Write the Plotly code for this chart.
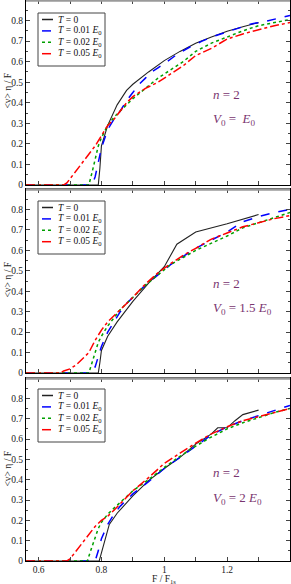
import plotly.graph_objects as go
from plotly.subplots import make_subplots

# ---------------- data ----------------
# Panel 1: V0 = E0
p1_x_T0 = [0.56, 0.79, 0.795, 0.80, 0.82, 0.85, 0.88, 0.90, 0.95, 1.00, 1.05, 1.10, 1.15, 1.20, 1.25, 1.30]
p1_y_T0 = [0, 0, 0.08, 0.19, 0.29, 0.39, 0.46, 0.49, 0.55, 0.605, 0.65, 0.69, 0.72, 0.748, 0.77, 0.79]
p1_x_T1 = [0.56, 0.77, 0.78, 0.79, 0.80, 0.82, 0.84, 0.86, 0.88, 0.90, 0.92, 0.94, 0.96, 0.98, 1.00, 1.04, 1.08, 1.12, 1.16, 1.20, 1.24, 1.28, 1.32, 1.36, 1.40]
p1_y_T1 = [0, 0, 0.04, 0.11, 0.18, 0.27, 0.32, 0.36, 0.41, 0.45, 0.49, 0.52, 0.55, 0.57, 0.59, 0.635, 0.67, 0.70, 0.725, 0.745, 0.765, 0.785, 0.795, 0.81, 0.825]
p1_x_T2 = [0.56, 0.76, 0.77, 0.78, 0.79, 0.80, 0.82, 0.84, 0.86, 0.88, 0.90, 0.94, 0.98, 1.02, 1.06, 1.10, 1.15, 1.20, 1.25, 1.30, 1.35, 1.40]
p1_y_T2 = [0, 0, 0.06, 0.13, 0.19, 0.23, 0.29, 0.33, 0.36, 0.39, 0.42, 0.47, 0.52, 0.56, 0.60, 0.65, 0.69, 0.72, 0.75, 0.775, 0.79, 0.805]
p1_x_T5 = [0.56, 0.68, 0.69, 0.70, 0.72, 0.74, 0.76, 0.78, 0.80, 0.82, 0.84, 0.86, 0.88, 0.90, 0.94, 0.98, 1.02, 1.06, 1.10, 1.15, 1.20, 1.25, 1.30, 1.35, 1.40]
p1_y_T5 = [0, 0, 0.01, 0.03, 0.07, 0.11, 0.15, 0.19, 0.24, 0.29, 0.32, 0.36, 0.40, 0.43, 0.47, 0.50, 0.54, 0.58, 0.63, 0.665, 0.71, 0.735, 0.755, 0.775, 0.79]

# Panel 2: V0 = 1.5 E0
p2_x_T0 = [0.56, 0.79, 0.795, 0.80, 0.82, 0.85, 0.90, 0.95, 1.00, 1.04, 1.10, 1.20, 1.30]
p2_y_T0 = [0, 0, 0.05, 0.11, 0.18, 0.25, 0.35, 0.44, 0.52, 0.63, 0.69, 0.73, 0.775]
p2_x_T1 = [0.56, 0.77, 0.78, 0.79, 0.80, 0.82, 0.84, 0.86, 0.88, 0.90, 0.94, 0.98, 1.02, 1.06, 1.10, 1.15, 1.20, 1.25, 1.30, 1.35, 1.40]
p2_y_T1 = [0, 0, 0.03, 0.08, 0.13, 0.20, 0.25, 0.30, 0.34, 0.37, 0.43, 0.48, 0.53, 0.57, 0.61, 0.65, 0.69, 0.74, 0.765, 0.785, 0.80]
p2_x_T2 = [0.56, 0.76, 0.77, 0.78, 0.79, 0.80, 0.82, 0.84, 0.86, 0.88, 0.90, 0.94, 0.98, 1.02, 1.06, 1.10, 1.15, 1.20, 1.25, 1.30, 1.35, 1.40]
p2_y_T2 = [0, 0, 0.05, 0.10, 0.15, 0.18, 0.23, 0.27, 0.31, 0.34, 0.37, 0.43, 0.48, 0.53, 0.565, 0.60, 0.635, 0.67, 0.71, 0.735, 0.76, 0.785]
p2_x_T5 = [0.56, 0.67, 0.68, 0.70, 0.72, 0.74, 0.76, 0.78, 0.80, 0.82, 0.84, 0.86, 0.88, 0.90, 0.94, 0.98, 1.02, 1.06, 1.10, 1.15, 1.20, 1.25, 1.30, 1.35, 1.40]
p2_y_T5 = [0, 0, 0.01, 0.02, 0.04, 0.07, 0.10, 0.16, 0.21, 0.25, 0.28, 0.31, 0.34, 0.37, 0.435, 0.49, 0.535, 0.575, 0.61, 0.655, 0.685, 0.715, 0.735, 0.755, 0.77]

# Panel 3: V0 = 2 E0
p3_x_T0 = [0.56, 0.793, 0.80, 0.81, 0.825, 0.85, 0.87, 0.90, 0.95, 1.00, 1.05, 1.10, 1.15, 1.17, 1.20, 1.225, 1.25, 1.30]
p3_y_T0 = [0, 0, 0.04, 0.10, 0.18, 0.235, 0.27, 0.32, 0.395, 0.455, 0.51, 0.575, 0.625, 0.655, 0.655, 0.69, 0.72, 0.742]
p3_x_T1 = [0.56, 0.78, 0.79, 0.80, 0.82, 0.84, 0.86, 0.88, 0.90, 0.95, 1.00, 1.05, 1.10, 1.15, 1.20, 1.25, 1.30, 1.35, 1.40]
p3_y_T1 = [0, 0, 0.05, 0.11, 0.18, 0.23, 0.27, 0.30, 0.33, 0.39, 0.455, 0.51, 0.565, 0.62, 0.66, 0.69, 0.715, 0.74, 0.765]
p3_x_T2 = [0.56, 0.755, 0.77, 0.78, 0.79, 0.80, 0.82, 0.84, 0.86, 0.88, 0.90, 0.95, 1.00, 1.05, 1.10, 1.15, 1.20, 1.25, 1.30, 1.35, 1.40]
p3_y_T2 = [0, 0, 0.07, 0.12, 0.16, 0.19, 0.23, 0.26, 0.29, 0.32, 0.345, 0.40, 0.46, 0.515, 0.565, 0.61, 0.65, 0.68, 0.705, 0.73, 0.75]
p3_x_T5 = [0.56, 0.69, 0.70, 0.72, 0.74, 0.76, 0.78, 0.80, 0.82, 0.84, 0.86, 0.88, 0.90, 0.95, 1.00, 1.05, 1.10, 1.15, 1.20, 1.25, 1.30, 1.35, 1.40]
p3_y_T5 = [0, 0, 0.01, 0.05, 0.09, 0.13, 0.17, 0.20, 0.22, 0.25, 0.28, 0.31, 0.345, 0.41, 0.48, 0.53, 0.58, 0.625, 0.66, 0.69, 0.71, 0.73, 0.75]

series_names = ["<i>T</i> = 0", "<i>T</i> = 0.01 <i>E</i><sub>0</sub>",
                "<i>T</i> = 0.02 <i>E</i><sub>0</sub>", "<i>T</i> = 0.05 <i>E</i><sub>0</sub>"]
panel_labels = ["<i>V</i><sub>0</sub> =  <i>E</i><sub>0</sub>",
                "<i>V</i><sub>0</sub> = 1.5 <i>E</i><sub>0</sub>",
                "<i>V</i><sub>0</sub> = 2 <i>E</i><sub>0</sub>"]
y_ticks = [0, 0.1, 0.2, 0.3, 0.4, 0.5, 0.6, 0.7, 0.8]
x_ticks = [0.6, 0.8, 1.0, 1.2]
x_ticklabels = ["0.6", "0.8", "1", "1.2"]

# ---------------- figure ----------------
panels = [
    [(p1_x_T0, p1_y_T0), (p1_x_T1, p1_y_T1), (p1_x_T2, p1_y_T2), (p1_x_T5, p1_y_T5)],
    [(p2_x_T0, p2_y_T0), (p2_x_T1, p2_y_T1), (p2_x_T2, p2_y_T2), (p2_x_T5, p2_y_T5)],
    [(p3_x_T0, p3_y_T0), (p3_x_T1, p3_y_T1), (p3_x_T2, p3_y_T2), (p3_x_T5, p3_y_T5)],
]
styles = [dict(color="#222222", width=1.1, dash="solid"),
          dict(color="#0000ff", width=1.5, dash="dash"),
          dict(color="#00a000", width=1.5, dash="dot"),
          dict(color="#ff0000", width=1.5, dash="dashdot")]

FONT = "Liberation Serif, Times New Roman, serif"
PURPLE = "#7a3570"
W_PLOT = 264.0
H_AREA = 561.0
L_MARGIN = 26.0


def px_x(px):
    return (px - L_MARGIN) / W_PLOT


def px_y(py):
    return (H_AREA - py) / H_AREA


fig = make_subplots(rows=3, cols=1, shared_xaxes=True, vertical_spacing=0.0)

domains = [[px_y(185), 1.0], [px_y(373), px_y(189)], [0.0, px_y(378)]]
panel_tops = [0, 189, 378]
legend_tops = [13, 201, 389]

for r, pdata in enumerate(panels):
    for k, (xs, ys) in enumerate(pdata):
        fig.add_trace(go.Scatter(x=xs, y=ys, mode="lines", line=styles[k],
                                 name=series_names[k], showlegend=False),
                      row=r + 1, col=1)

tick_font = dict(family=FONT, size=9.5, color="#222")
for r in range(3):
    fig.update_yaxes(dict(range=[0, 0.9], tickvals=y_ticks, ticktext=[("%g" % v) for v in y_ticks],
                          ticks="inside", ticklen=4, tickwidth=1, tickcolor="#444",
                          minor=dict(dtick=0.05, ticks="inside", ticklen=2, tickcolor="#444"),
                          showline=True, linecolor="black", linewidth=1, mirror="ticks",
                          showgrid=False, zeroline=False, automargin=False,
                          tickfont=tick_font, domain=domains[r]),
                     row=r + 1, col=1)
    fig.update_xaxes(dict(range=[0.56, 1.4], tickvals=x_ticks, ticktext=x_ticklabels,
                          ticks="inside", ticklen=4, tickwidth=1, tickcolor="#444",
                          minor=dict(dtick=0.1, tick0=0.6, ticks="inside", ticklen=4, tickcolor="#444"),
                          showline=True, linecolor="black", linewidth=1, mirror="ticks",
                          showgrid=False, zeroline=False, automargin=False,
                          tickfont=tick_font),
                     row=r + 1, col=1)

shapes = []
annotations = []
for r in range(3):
    xref = "x" if r == 0 else "x%d" % (r + 1)
    yref = "y" if r == 0 else "y%d" % (r + 1)
    # n = 2 and V0 labels
    annotations.append(dict(x=1.15, y=[0.44, 0.437, 0.437][r], xref=xref, yref=yref, xanchor="left",
                            text="<i>n</i> = 2", showarrow=False,
                            font=dict(family=FONT, size=13, color=PURPLE)))
    annotations.append(dict(x=1.15, y=[0.32, 0.315, 0.307][r], xref=xref, yref=yref, xanchor="left",
                            text=panel_labels[r], showarrow=False,
                            font=dict(family=FONT, size=13, color=PURPLE)))
    # y-axis title
    annotations.append(dict(x=px_x(7.5), y=px_y(panel_tops[r] + 91), xref="paper", yref="paper",
                            text="&lt;v&gt; η / F", textangle=-90, showarrow=False,
                            xanchor="center", yanchor="middle",
                            font=dict(family=FONT, size=9.5, color="#222")))
    # gray top band of each frame
    shapes.append(dict(type="line", xref="paper", yref="paper", x0=0, x1=1,
                       y0=px_y(panel_tops[r] + 0.5), y1=px_y(panel_tops[r] + 0.5),
                       line=dict(color="#9a9a9a", width=2.5)))
    # compact legend box
    top = legend_tops[r]
    shapes.append(dict(type="rect", xref="paper", yref="paper",
                       x0=px_x(38), x1=px_x(105), y0=px_y(top + 53), y1=px_y(top),
                       line=dict(color="#444444", width=1), fillcolor="white", layer="above"))
    for k in range(4):
        yy = px_y(top + 6.5 + 11.4 * k)
        shapes.append(dict(type="line", xref="paper", yref="paper",
                           x0=px_x(42), x1=px_x(53), y0=yy, y1=yy,
                           line=dict(color=styles[k]["color"], width=1.5, dash=styles[k]["dash"]),
                           layer="above"))
        annotations.append(dict(x=px_x(56), y=yy, xref="paper", yref="paper",
                                xanchor="left", yanchor="middle", text=series_names[k],
                                showarrow=False, font=dict(family=FONT, size=9.5, color="#111")))

# x-axis title
annotations.append(dict(x=1.0, y=px_y(579), xref="x3", yref="paper", xanchor="center",
                        yanchor="middle", text="F / F<sub>1s</sub>", showarrow=False,
                        font=dict(family=FONT, size=9.5, color="#222")))

fig.update_layout(width=291, height=584, margin=dict(l=26, r=1, t=0, b=23),
                  paper_bgcolor="white", plot_bgcolor="white", showlegend=False,
                  shapes=shapes, annotations=annotations)

fig.write_html("out.html", config={"displayModeBar": False},
               post_script="document.body.style.margin='0';document.body.style.overflow='hidden';")
